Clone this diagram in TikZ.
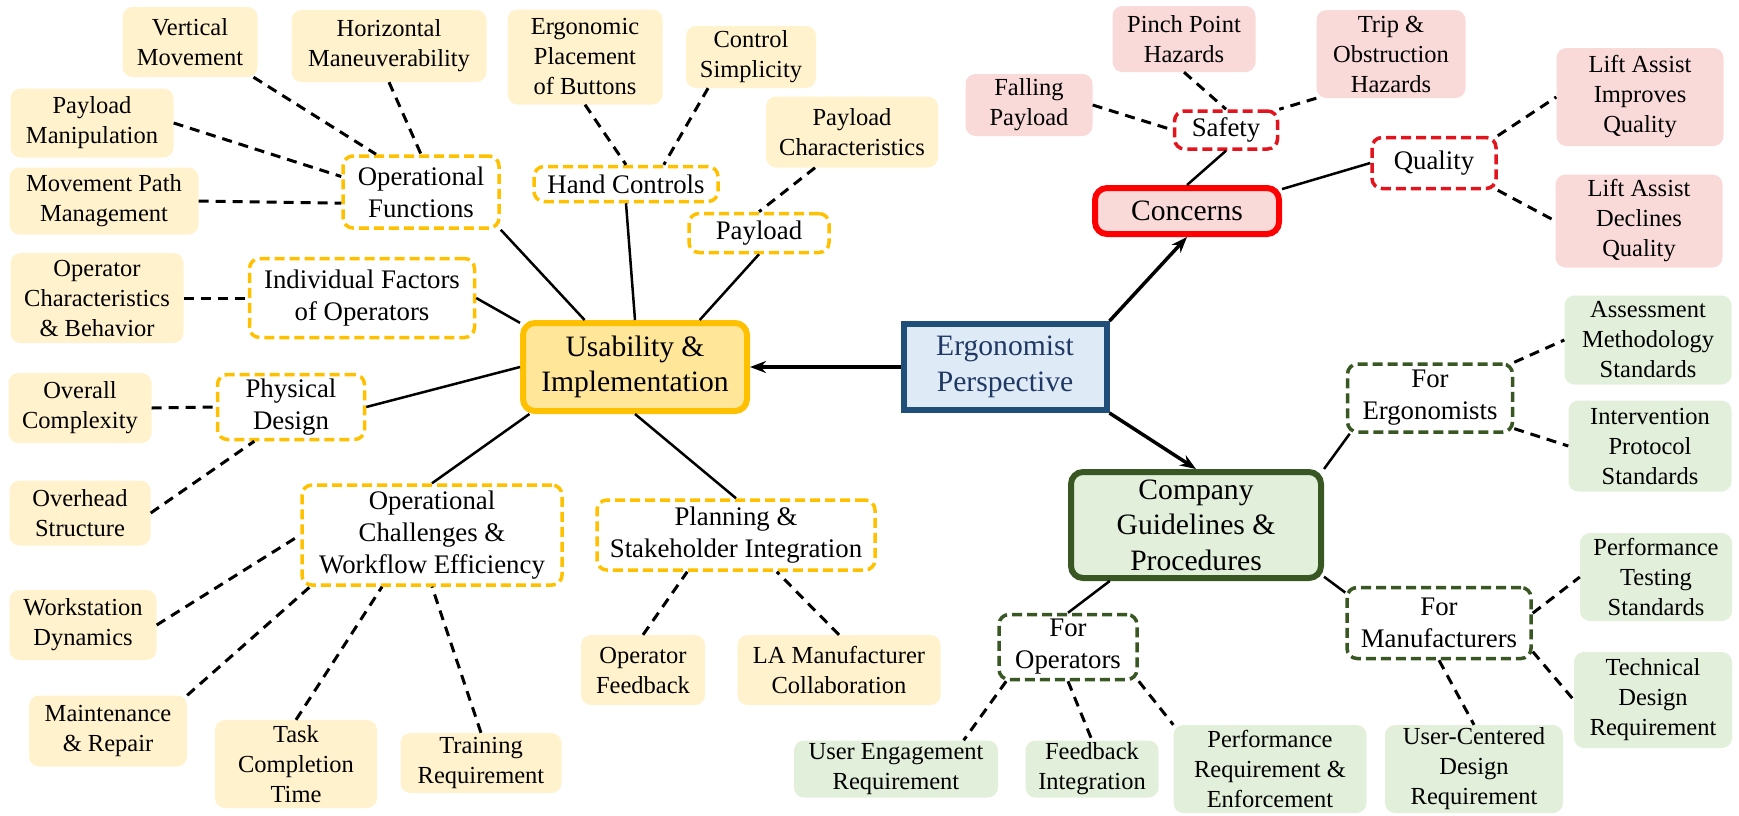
\documentclass[tikz,border=0pt]{standalone}
\usepackage{fontspec}
\setmainfont{Liberation Serif}
\usetikzlibrary{arrows.meta}

\definecolor{ylwfill}{HTML}{FFF2CC}
\definecolor{ylwmain}{HTML}{FFE699}
\definecolor{ylwline}{HTML}{FFC000}
\definecolor{redfill}{HTML}{FAD9D9}
\definecolor{redline}{HTML}{FF0000}
\definecolor{reddash}{HTML}{E3141E}
\definecolor{grnfill}{HTML}{E2EFDA}
\definecolor{grnline}{HTML}{385723}
\definecolor{bluefill}{HTML}{DEEBF7}
\definecolor{blueline}{HTML}{1F4E79}
\definecolor{bluetext}{HTML}{1F3864}

\newcommand{\leaffont}{\fontsize{24.5pt}{30pt}\selectfont}
\newcommand{\groupfont}{\fontsize{26.8pt}{32pt}\selectfont}
\newcommand{\hubfont}{\fontsize{29.6pt}{35.5pt}\selectfont}

\begin{document}
\begin{tikzpicture}[x=1pt, y=-1pt,
    sz/.style 2 args={minimum width=#1pt, minimum height=#2pt},
    leaf/.style={rounded corners=10pt, align=center, inner sep=2pt, font=\leaffont},
    yleaf/.style={leaf, fill=ylwfill},
    rleaf/.style={leaf, fill=redfill},
    gleaf/.style={leaf, fill=grnfill},
    group/.style={draw, dash pattern=on 10pt off 5pt, line width=3.5pt, rounded corners=10pt,
        fill=white, align=center, inner sep=2pt, font=\groupfont},
    ygroup/.style={group, draw=ylwline},
    rgroup/.style={group, draw=reddash},
    ggroup/.style={group, draw=grnline},
    hub/.style={draw, line width=6pt, rounded corners=12pt, align=center, inner sep=2pt, font=\hubfont},
    sline/.style={line width=2.5pt},
    dline/.style={line width=3pt, dash pattern=on 10pt off 7pt},
    arr/.style={line width=3.5pt, -{Stealth[length=16pt, width=12pt]}}]

\useasboundingbox (0,0) rectangle (1739,815);

% hubs
\node[hub, fill=bluefill, draw=blueline, text=bluetext, rounded corners=0pt, sz={203}{86}] at (1005,367) (ergo) {Ergonomist\\Perspective};
\node[hub, fill=ylwmain, draw=ylwline, sz={224}{88}] at (635,367) (usab) {Usability \&\\Implementation};
\node[hub, fill=redfill, draw=redline, sz={184}{46}] at (1187,211) (concerns) {Concerns};
\node[hub, fill=grnfill, draw=grnline, sz={250}{106}] at (1196,525) (company) {Company\\Guidelines \&\\Procedures};

% usability branch
\node[ygroup, sz={156}{72}] at (421,192) (opfunc) {Operational\\Functions};
\node[ygroup, sz={184}{35}] at (626,184) (hand) {Hand Controls};
\node[ygroup, sz={140}{39}] at (759,233) (payload) {Payload};
\node[ygroup, sz={225}{79}] at (362,298) (indiv) {Individual Factors\\of Operators};
\node[ygroup, sz={147}{65}] at (291,407) (physical) {Physical\\Design};
\node[ygroup, sz={260}{100}] at (432,535) (opchall) {Operational\\Challenges \&\\Workflow Efficiency};
\node[ygroup, sz={278}{70}] at (736,535) (planning) {Planning \&\\Stakeholder Integration};

\node[yleaf, sz={135}{70}] at (190,42) (vert) {Vertical\\Movement};
\node[yleaf, sz={195}{72}] at (389,46) (horiz) {Horizontal\\Maneuverability};
\node[yleaf, sz={155}{95}] at (585,57) (ergoplace) {Ergonomic\\Placement\\of Buttons};
\node[yleaf, sz={130}{62}] at (751,57) (ctrl) {Control\\Simplicity};
\node[yleaf, sz={172}{71}] at (852,132) (paychar) {Payload\\Characteristics};
\node[yleaf, sz={163}{69}] at (92,123) (paymanip) {Payload\\Manipulation};
\node[yleaf, sz={189}{67}] at (104,201) (movepath) {Movement Path\\Management};
\node[yleaf, sz={173}{90}] at (97,298) (opchar) {Operator\\Characteristics\\\& Behavior};
\node[yleaf, sz={143}{70}] at (80,408) (overall) {Overall\\Complexity};
\node[yleaf, sz={141}{65}] at (80,513) (overhead) {Overhead\\Structure};
\node[yleaf, sz={147}{70}] at (83,625) (workst) {Workstation\\Dynamics};
\node[yleaf, sz={158}{71}] at (108,731) (maint) {Maintenance\\\& Repair};
\node[yleaf, sz={162}{88}] at (296,764) (taskt) {Task\\Completion\\Time};
\node[yleaf, sz={161}{60}] at (481,763) (train) {Training\\Requirement};
\node[yleaf, sz={124}{70}] at (643,670) (opfeed) {Operator\\Feedback};
\node[yleaf, sz={203}{70}] at (839,670) (lacollab) {LA Manufacturer\\Collaboration};

% concerns branch
\node[rgroup, sz={103}{38}] at (1226,130) (safety) {Safety};
\node[rgroup, sz={124}{51}] at (1434,163) (quality) {Quality};
\node[rleaf, sz={143}{66}] at (1184,39) (pinch) {Pinch Point\\Hazards};
\node[rleaf, sz={149}{88}] at (1391,54) (trip) {Trip \&\\Obstruction\\Hazards};
\node[rleaf, sz={127}{62}] at (1029,105) (falling) {Falling\\Payload};
\node[rleaf, sz={167}{98}] at (1640,97) (improves) {Lift Assist\\Improves\\Quality};
\node[rleaf, sz={167}{93}] at (1639,221) (declines) {Lift Assist\\Declines\\Quality};

% company branch
\node[ggroup, sz={165}{68}] at (1430,398) (forerg) {For\\Ergonomists};
\node[ggroup, sz={184}{71}] at (1439,623) (forman) {For\\Manufacturers};
\node[ggroup, sz={138}{65}] at (1068,647) (forop) {For\\Operators};
\node[gleaf, sz={167}{89}] at (1648,340) (assess) {Assessment\\Methodology\\Standards};
\node[gleaf, sz={163}{91}] at (1650,446) (interv) {Intervention\\Protocol\\Standards};
\node[gleaf, sz={152}{88}] at (1656,577) (perftest) {Performance\\Testing\\Standards};
\node[gleaf, sz={158}{96}] at (1653,700) (techn) {Technical\\Design\\Requirement};
\node[gleaf, sz={178}{88}] at (1474,769) (ucd) {User-Centered\\Design\\Requirement};
\node[gleaf, sz={193}{88}] at (1270,769) (perfreq) {Performance\\Requirement \&\\Enforcement};
\node[gleaf, sz={133}{57}] at (1092,769) (feedint) {Feedback\\Integration};
\node[gleaf, sz={204}{57}] at (896,769) (usereng) {User Engagement\\Requirement};

% main arrows
\path
    (ergo.west) edge[arr] (usab.east)
    (ergo.north east) edge[arr] (concerns.south)
    (ergo.south east) edge[arr] (company.north);

% usability links
\path
    (opfunc.south east) edge[sline] (usab.137)
    (hand.south) edge[sline] (usab.north)
    (payload.south) edge[sline] (usab.36)
    (indiv.east) edge[sline] (usab.159)
    (physical.east) edge[sline] (usab.west)
    (opchall.north) edge[sline] (usab.204)
    (planning.north) edge[sline] (usab.south)
    (vert.331) edge[dline] (opfunc.140)
    (horiz.south) edge[dline] (opfunc.north)
    (paymanip.east) edge[dline] (opfunc.169)
    (movepath.east) edge[dline] (opfunc.188)
    (ergoplace.south) edge[dline] (hand.north)
    (ctrl.216) edge[dline] (hand.27)
    (paychar.224) edge[dline] (payload.north)
    (opchar.east) edge[dline] (indiv.west)
    (overall.east) edge[dline] (physical.west)
    (overhead.east) edge[dline] (physical.223)
    (workst.east) edge[dline] (opchall.west)
    (maint.north east) edge[dline] (opchall.203)
    (taskt.north) edge[dline] (opchall.226)
    (train.north) edge[dline] (opchall.south)
    (opfeed.north) edge[dline] (planning.217)
    (lacollab.north) edge[dline] (planning.318);

% concerns links
\path
    (concerns.north) edge[sline] (safety.south)
    (concerns.13) edge[sline] (quality.west)
    (falling.east) edge[dline] (safety.west)
    (pinch.south) edge[dline] (safety.north)
    (trip.south west) edge[dline] (safety.north east)
    (quality.north east) edge[dline] (improves.west)
    (quality.south east) edge[dline] (declines.west);

% company links
\path
    (company.north east) edge[sline] (forerg.204)
    (company.338) edge[sline] (forman.162)
    (company.213) edge[sline] (forop.north)
    (forerg.north east) edge[dline] (assess.west)
    (forerg.340) edge[dline] (interv.west)
    (forman.6) edge[dline] (perftest.west)
    (forman.343) edge[dline] (techn.west)
    (forman.south) edge[dline] (ucd.north)
    (forop.209) edge[dline] (usereng.23)
    (forop.south) edge[dline] (feedint.north)
    (forop.south east) edge[dline] (perfreq.north west);

\end{tikzpicture}
\end{document}
